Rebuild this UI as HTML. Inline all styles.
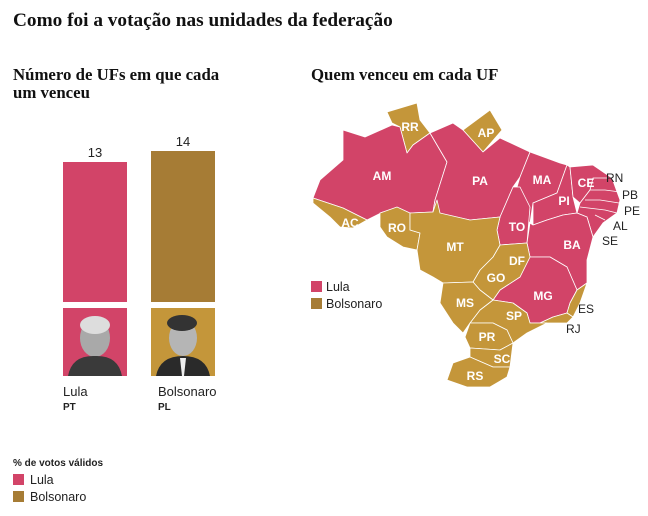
<!DOCTYPE html>
<html><head><meta charset="utf-8"><style>
body{margin:0;width:648px;height:516px;background:#fff;overflow:hidden;font-family:"Liberation Sans",sans-serif;color:#222}
svg{position:absolute;left:0;top:0}
</style></head><body>
<svg width="648" height="516" viewBox="0 0 648 516">
<text x="13" y="26" font-family="Liberation Serif" font-weight="bold" font-size="19.3" fill="#111">Como foi a votação nas unidades da federação</text>
<text x="13" y="80" font-family="Liberation Serif" font-weight="bold" font-size="16.8" fill="#111">Número de UFs em que cada</text>
<text x="13" y="98" font-family="Liberation Serif" font-weight="bold" font-size="16.8" fill="#111">um venceu</text>
<text x="311" y="80" font-family="Liberation Serif" font-weight="bold" font-size="16.8" fill="#111">Quem venceu em cada UF</text>
<text x="95" y="157" font-size="13" text-anchor="middle" fill="#222">13</text>
<rect x="63" y="162" width="64" height="140" fill="#d24468"/>
<text x="183" y="146" font-size="13" text-anchor="middle" fill="#222">14</text>
<rect x="151" y="151" width="64" height="151" fill="#a67c35"/>
<rect x="63" y="308" width="64" height="68" fill="#d24468"/>
<ellipse cx="95" cy="338" rx="15" ry="19" fill="#a9a9a9"/>
<ellipse cx="95" cy="325" rx="15" ry="9" fill="#ddd"/>
<path d="M68 376 Q72 355 95 356 Q118 355 122 376Z" fill="#3a3a3a"/>
<rect x="151" y="308" width="64" height="68" fill="#c4963a"/>
<ellipse cx="183" cy="338" rx="14" ry="18" fill="#b5b5b5"/>
<ellipse cx="182" cy="323" rx="15" ry="8" fill="#333"/>
<path d="M156 376 Q160 356 183 356 Q206 356 210 376Z" fill="#2a2a2a"/>
<path d="M180 358 L186 358 L184 376 L182 376Z" fill="#eee"/>
<text x="63" y="396" font-size="13" fill="#222">Lula</text>
<text x="63" y="410" font-size="10" font-weight="bold" fill="#222">PT</text>
<text x="158" y="396" font-size="13" fill="#222">Bolsonaro</text>
<text x="158" y="410" font-size="10" font-weight="bold" fill="#222">PL</text>
<text x="13" y="466" font-size="10" font-weight="bold" fill="#222">% de votos válidos</text>
<rect x="13" y="474" width="11" height="11" fill="#d24468"/>
<text x="30" y="484" font-size="12.5" fill="#222">Lula</text>
<rect x="13" y="491" width="11" height="11" fill="#a67c35"/>
<text x="30" y="501" font-size="12.5" fill="#222">Bolsonaro</text>
<g stroke="#fff" stroke-width="0.8" stroke-linejoin="round">
<polygon fill="#c4963a" points="387,112 417,103 420,120 430,133 413,145 407,153 400,127 392,123"/>
<polygon fill="#c4963a" points="463,130 490,110 502,130 483,152"/>
<polygon fill="#d24468" points="343,130 365,137 392,125 400,127 407,153 413,145 430,133 447,162 435,200 433,212 410,213 383,212 367,220 343,208 313,198 320,180 343,160"/>
<polygon fill="#c4963a" points="313,198 343,208 367,220 353,228 340,227 330,217 313,203"/>
<polygon fill="#c4963a" points="380,213 397,207 410,213 410,230 420,233 417,250 403,247 387,237 380,227"/>
<polygon fill="#d24468" points="430,133 453,123 463,130 483,152 500,138 530,152 520,177 513,187 500,217 470,220 433,212 435,200 447,162"/>
<polygon fill="#d24468" points="530,152 560,163 567,165 557,193 533,203 530,223 527,220 517,187 520,177"/>
<polygon fill="#d24468" points="513,187 520,187 530,207 527,243 500,245 497,230 500,217"/>
<polygon fill="#d24468" points="567,165 570,167 573,197 577,213 563,215 547,220 533,225 533,203 557,193"/>
<polygon fill="#d24468" points="570,167 593,165 612,178 590,190 580,203 573,197"/>
<polygon fill="#d24468" points="593,178 612,178 620,200 617,213 603,223 593,237 587,217 577,213 580,203 590,190"/>
<polyline fill="none" points="590,190 605,190 620,192"/>
<polyline fill="none" points="585,200 600,200 619,203"/>
<polyline fill="none" points="580,207 605,210 617,213"/>
<polyline fill="none" points="595,215 605,220"/>
<polygon fill="#d24468" points="530,223 533,225 547,220 563,215 577,213 587,217 593,237 587,260 587,283 577,290 567,267 550,257 530,257 527,243"/>
<polygon fill="#d24468" points="530,257 550,257 567,267 577,290 570,303 567,313 553,317 540,323 530,323 527,313 513,303 493,300 500,290 520,277 527,263"/>
<polygon fill="#c4963a" points="577,290 587,283 580,303 573,317 567,313 570,303"/>
<polygon fill="#c4963a" points="553,317 567,313 573,317 567,323 547,323 540,323"/>
<polygon fill="#c4963a" points="493,300 513,303 527,313 530,323 540,323 547,323 527,333 513,343 507,330 493,323 470,323 480,310"/>
<polygon fill="#c4963a" points="500,245 527,243 530,257 527,263 520,277 500,290 493,300 480,290 473,282 480,270 493,257"/>
<polygon fill="#c4963a" points="410,213 433,212 437,200 440,213 470,220 500,217 497,230 500,245 493,257 480,270 473,282 443,283 433,277 420,270 417,250 420,233 410,230"/>
<polygon fill="#c4963a" points="443,283 473,282 480,290 493,300 480,310 470,323 463,333 453,323 440,303"/>
<polygon fill="#c4963a" points="470,323 493,323 507,330 513,343 500,350 470,348 465,337"/>
<polygon fill="#c4963a" points="470,348 500,350 513,343 510,367 493,367 470,357"/>
<polygon fill="#c4963a" points="470,357 493,367 510,367 507,377 490,387 467,387 447,380 453,363"/>
</g>
<g font-size="12" font-weight="bold" fill="#fff" text-anchor="middle">
<text x="410" y="131">RR</text><text x="486" y="137">AP</text>
<text x="382" y="180">AM</text><text x="480" y="185">PA</text>
<text x="542" y="184">MA</text><text x="586" y="187">CE</text>
<text x="564" y="205">PI</text><text x="517" y="231">TO</text>
<text x="572" y="249">BA</text><text x="350" y="227">AC</text>
<text x="397" y="232">RO</text><text x="455" y="251">MT</text>
<text x="517" y="265">DF</text><text x="496" y="282">GO</text>
<text x="543" y="300">MG</text><text x="465" y="307">MS</text>
<text x="514" y="320">SP</text><text x="487" y="341">PR</text>
<text x="502" y="363">SC</text><text x="475" y="380">RS</text>
</g>
<g font-size="12" fill="#222">
<text x="606" y="182">RN</text><text x="622" y="199">PB</text>
<text x="624" y="215">PE</text><text x="613" y="230">AL</text>
<text x="602" y="245">SE</text><text x="578" y="313">ES</text>
<text x="566" y="333">RJ</text>
</g>
<rect x="311" y="281" width="11" height="11" fill="#d24468"/>
<text x="326" y="291" font-size="12.5" fill="#222">Lula</text>
<rect x="311" y="298" width="11" height="11" fill="#a67c35"/>
<text x="326" y="308" font-size="12.5" fill="#222">Bolsonaro</text>
</svg>
</body></html>
